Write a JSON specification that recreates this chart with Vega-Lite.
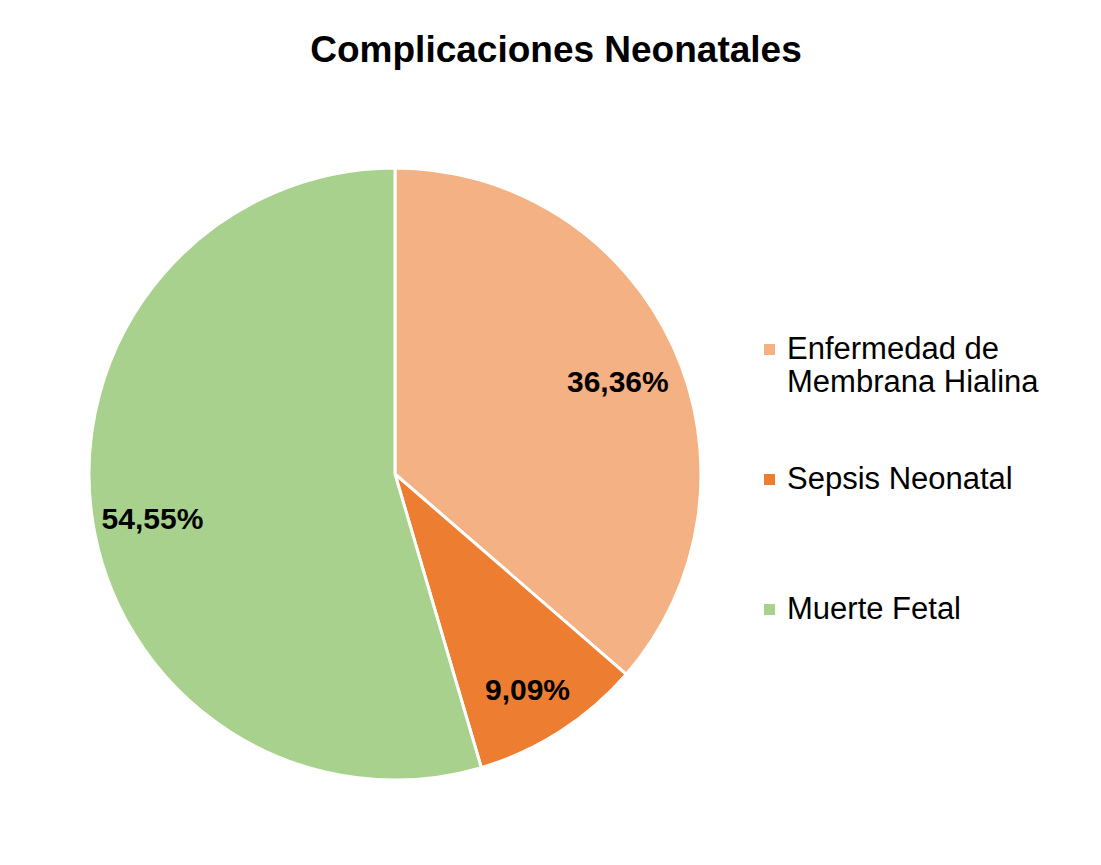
{
  "$schema": "https://vega.github.io/schema/vega-lite/v6.json",
  "width": 790,
  "height": 748,
  "autosize": {"type": "none"},
  "padding": {"left": 0, "top": 100, "right": 311, "bottom": 17},
  "background": "white",
  "title": {
    "text": "Complicaciones Neonatales",
    "font": "Liberation Sans",
    "fontSize": 37,
    "fontWeight": "bold",
    "color": "black",
    "anchor": "middle",
    "frame": "group",
    "dx": 161,
    "offset": 30
  },
  "data": {
    "values": [
      {"categoria": "Enfermedad de Membrana Hialina", "porcentaje": 36.36, "etiqueta": "36,36%", "orden": 1},
      {"categoria": "Sepsis Neonatal", "porcentaje": 9.09, "etiqueta": "9,09%", "orden": 2},
      {"categoria": "Muerte Fetal", "porcentaje": 54.55, "etiqueta": "54,55%", "orden": 3}
    ]
  },
  "encoding": {
    "theta": {"field": "porcentaje", "type": "quantitative", "stack": true},
    "order": {"field": "orden", "type": "quantitative"}
  },
  "layer": [
    {
      "mark": {"type": "arc", "outerRadius": 306, "stroke": "white", "strokeWidth": 3},
      "encoding": {
        "color": {
          "field": "categoria",
          "type": "nominal",
          "scale": {
            "domain": ["Enfermedad de Membrana Hialina", "Sepsis Neonatal", "Muerte Fetal"],
            "range": ["#F4B183", "#ED7D31", "#A9D18E"]
          },
          "legend": {
            "title": null,
            "orient": "none",
            "legendX": 754,
            "legendY": 234,
            "symbolType": "square",
            "symbolSize": 121,
            "symbolStrokeWidth": 0,
            "labelFont": "Liberation Sans",
            "labelFontSize": 31,
            "labelColor": "black",
            "labelOffset": 2,
            "labelLimit": 400,
            "rowPadding": 65,
            "padding": 0,
            "labelExpr": "datum.label == 'Enfermedad de Membrana Hialina' ? ['Enfermedad de', 'Membrana Hialina'] : [datum.label, '']",
            "encode": {"labels": {"update": {"lineHeight": {"value": 35}}}}
          }
        }
      }
    },
    {
      "mark": {"type": "text", "radius": 245, "dx": 0, "dy": 11, "font": "Liberation Sans", "fontSize": 30, "fontWeight": "bold", "color": "black"},
      "encoding": {
        "text": {"field": "etiqueta", "type": "nominal"}
      }
    }
  ],
  "config": {"view": {"stroke": null}}
}
